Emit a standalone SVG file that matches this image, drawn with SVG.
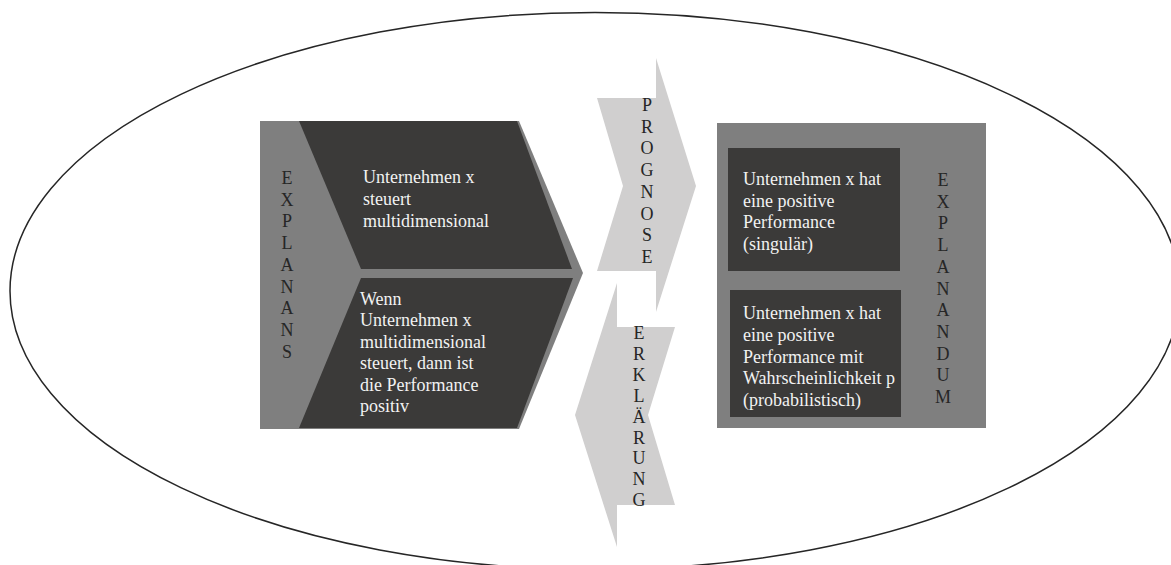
<svg xmlns="http://www.w3.org/2000/svg" width="1171" height="565" viewBox="0 0 1171 565">
<style>
text{font-family:"Liberation Serif","Times New Roman",serif;font-size:18px}
.lt{fill:#f2f2f2}
.lb{fill:#262626;text-anchor:middle}
.dark{fill:#3b3a39}
.mid{fill:#7f7f7f}
.arr{fill:#d0cfcf}
</style>
<rect width="1171" height="565" fill="#ffffff"/>
<ellipse cx="595" cy="291" rx="585" ry="278.5" fill="none" stroke="#262626" stroke-width="1.5"/>
<g id="explanans">
<polygon class="mid" points="260,121 519,121 583,273 519,429 260,429"/>
<polygon class="dark" points="299,121 517,121 572,269 361,269"/>
<polygon class="dark" points="361,278 573,278 517,428 299,428"/>
<text class="lb"><tspan x="287" y="184">E</tspan><tspan x="287" y="205.7">X</tspan><tspan x="287" y="227.4">P</tspan><tspan x="287" y="249.1">L</tspan><tspan x="287" y="270.8">A</tspan><tspan x="287" y="292.5">N</tspan><tspan x="287" y="314.2">A</tspan><tspan x="287" y="335.9">N</tspan><tspan x="287" y="357.6">S</tspan></text>
<text class="lt"><tspan x="363" y="183">Unternehmen x</tspan><tspan x="363" y="205">steuert</tspan><tspan x="363" y="227">multidimensional</tspan></text>
<text class="lt"><tspan x="360" y="305">Wenn</tspan><tspan x="360" y="326.4">Unternehmen x</tspan><tspan x="360" y="347.8">multidimensional</tspan><tspan x="360" y="369.2">steuert, dann ist</tspan><tspan x="360" y="390.6">die Performance</tspan><tspan x="360" y="412">positiv</tspan></text>
</g>
<g id="connectors">
<g id="prognose">
<polygon class="arr" points="597,98 656,98 656,58 696,186 656,312 656,271 597,271 623,186"/>
<text class="lb"><tspan x="647" y="111">P</tspan><tspan x="647" y="132.7">R</tspan><tspan x="647" y="154.4">O</tspan><tspan x="647" y="176.1">G</tspan><tspan x="647" y="197.8">N</tspan><tspan x="647" y="219.5">O</tspan><tspan x="647" y="241.2">S</tspan><tspan x="647" y="262.9">E</tspan></text>
</g>
<g id="erklaerung">
<polygon class="arr" points="617,283 617,327 675,327 648,415 675,505 617,505 617,547 575,415"/>
<text class="lb"><tspan x="639" y="339">E</tspan><tspan x="639" y="359.9">R</tspan><tspan x="639" y="380.8">K</tspan><tspan x="639" y="401.7">L</tspan><tspan x="639" y="422.6">Ä</tspan><tspan x="639" y="443.5">R</tspan><tspan x="639" y="464.4">U</tspan><tspan x="639" y="485.3">N</tspan><tspan x="639" y="506.2">G</tspan></text>
</g>
</g>
<g id="explanandum">
<rect class="mid" x="717" y="123" width="269" height="305"/>
<rect class="dark" x="728" y="148" width="172" height="123"/>
<rect class="dark" x="730" y="290" width="171" height="127"/>
<text class="lt"><tspan x="743" y="185">Unternehmen x hat</tspan><tspan x="743" y="206.7">eine positive</tspan><tspan x="743" y="228.4">Performance</tspan><tspan x="743" y="250.1">(singulär)</tspan></text>
<text class="lt"><tspan x="743" y="319.3">Unternehmen x hat</tspan><tspan x="743" y="341">eine positive</tspan><tspan x="743" y="362.7">Performance mit</tspan><tspan x="743" y="384.4">Wahrscheinlichkeit p</tspan><tspan x="743" y="406.1">(probabilistisch)</tspan></text>
<text class="lb"><tspan x="943" y="186">E</tspan><tspan x="943" y="207.7">X</tspan><tspan x="943" y="229.4">P</tspan><tspan x="943" y="251.1">L</tspan><tspan x="943" y="272.8">A</tspan><tspan x="943" y="294.5">N</tspan><tspan x="943" y="316.2">A</tspan><tspan x="943" y="337.9">N</tspan><tspan x="943" y="359.6">D</tspan><tspan x="943" y="381.3">U</tspan><tspan x="943" y="403">M</tspan></text>
</g>
</svg>
